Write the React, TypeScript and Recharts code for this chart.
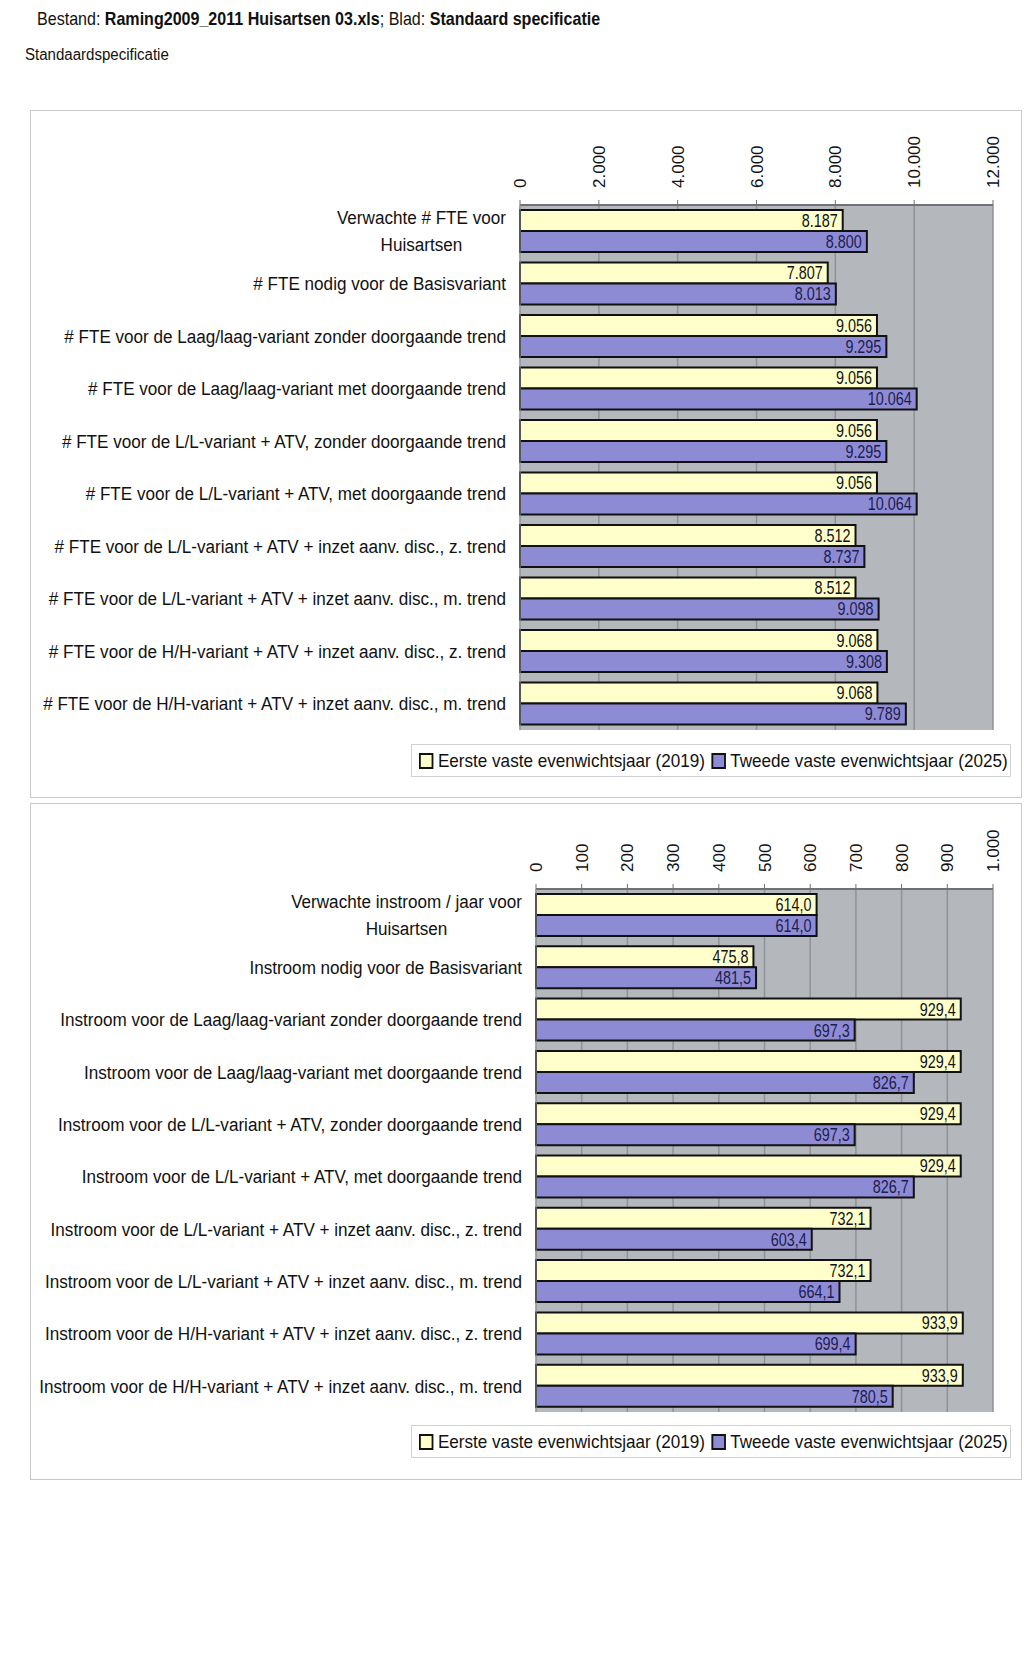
import React from 'react';
import {
  BarChart,
  Bar,
  XAxis,
  YAxis,
  CartesianGrid,
  LabelList
} from 'recharts';

// categories (newline = wrapped label)
const fteCategories = [
  'Verwachte # FTE voor\nHuisartsen',
  '# FTE nodig voor de Basisvariant',
  '# FTE voor de Laag/laag-variant zonder doorgaande trend',
  '# FTE voor de Laag/laag-variant met doorgaande trend',
  '# FTE voor de L/L-variant + ATV, zonder doorgaande trend',
  '# FTE voor de L/L-variant + ATV, met doorgaande trend',
  '# FTE voor de L/L-variant + ATV + inzet aanv. disc., z. trend',
  '# FTE voor de L/L-variant + ATV + inzet aanv. disc., m. trend',
  '# FTE voor de H/H-variant + ATV + inzet aanv. disc., z. trend',
  '# FTE voor de H/H-variant + ATV + inzet aanv. disc., m. trend',
];
const fte2019 = [8187, 7807, 9056, 9056, 9056, 9056, 8512, 8512, 9068, 9068];
const fte2025 = [8800, 8013, 9295, 10064, 9295, 10064, 8737, 9098, 9308, 9789];
const fteTicks = [0, 2000, 4000, 6000, 8000, 10000, 12000];

const instroomCategories = [
  'Verwachte instroom / jaar voor\nHuisartsen',
  'Instroom nodig voor de Basisvariant',
  'Instroom voor de Laag/laag-variant zonder doorgaande trend',
  'Instroom voor de Laag/laag-variant met doorgaande trend',
  'Instroom voor de L/L-variant + ATV, zonder doorgaande trend',
  'Instroom voor de L/L-variant + ATV, met doorgaande trend',
  'Instroom voor de L/L-variant + ATV + inzet aanv. disc., z. trend',
  'Instroom voor de L/L-variant + ATV + inzet aanv. disc., m. trend',
  'Instroom voor de H/H-variant + ATV + inzet aanv. disc., z. trend',
  'Instroom voor de H/H-variant + ATV + inzet aanv. disc., m. trend',
];
const instroom2019 = [614.0, 475.8, 929.4, 929.4, 929.4, 929.4, 732.1, 732.1, 933.9, 933.9];
const instroom2025 = [614.0, 481.5, 697.3, 826.7, 697.3, 826.7, 603.4, 664.1, 699.4, 780.5];
const instroomTicks = [0, 100, 200, 300, 400, 500, 600, 700, 800, 900, 1000];

const seriesNames = ['Eerste vaste evenwichtsjaar (2019)', 'Tweede vaste evenwichtsjaar (2025)'];

// no narrow font installed, so condense Liberation Sans with a horizontal scale
const FONT = '"Liberation Sans", Arial, sans-serif';
const CAT_SX = 0.9;
const VAL_SX = 0.8;
const YELLOW = '#FFFFCC';
const PURPLE = '#8E8BD5';
const PLOT_BG = '#B4B7BB';

// dutch number formats
const thousands = (v: number) => String(Math.round(v)).replace(/\B(?=(\d{3})+(?!\d))/g, '.');
const oneDecimal = (v: number) => v.toFixed(1).replace('.', ',');

let ctx: CanvasRenderingContext2D | null = null;
const measure = (text: string, font: string) => {
  if (!ctx) ctx = document.createElement('canvas').getContext('2d');
  if (!ctx) return text.length * 9;
  ctx.font = font;
  return ctx.measureText(text).width;
};

const CategoryTick = (props: any) => {
  const { x, y, payload } = props;
  const lines = String(payload.value).split('\n');
  const right = x - 6;
  if (lines.length === 1) {
    return (
      <g transform={`translate(${right},${y}) scale(${CAT_SX},1)`}>
        <text x={0} y={0} dy="0.35em" textAnchor="end" fontSize={19} fontFamily={FONT} fill="#111">
          {lines[0]}
        </text>
      </g>
    );
  }
  const w = Math.max(...lines.map(l => measure(l, `19px ${FONT}`))) * CAT_SX;
  const cx = right - w / 2;
  return (
    <g transform={`translate(${cx},${y}) scale(${CAT_SX},1)`}>
      <text textAnchor="middle" fontSize={19} fontFamily={FONT} fill="#111">
        {lines.map((l, i) => (
          <tspan key={i} x={0} y={(i - (lines.length - 1) / 2) * 27} dy="0.35em">{l}</tspan>
        ))}
      </text>
    </g>
  );
};

const ValueTick = (props: any) => {
  const { x, y, payload } = props;
  return (
    <text
      transform={`translate(${x + 6},${y - 12}) rotate(-90)`}
      textAnchor="start"
      fontSize={17}
      fontFamily={FONT}
      fill="#111"
    >
      {thousands(payload.value)}
    </text>
  );
};

const barLabel = (fmt: (v: number) => string, fill: string) => (props: any) => {
  const { x, y, width, height, value } = props;
  return (
    <g transform={`translate(${x + width - 5},${y + height / 2}) scale(${VAL_SX},1)`}>
      <text x={0} y={0} dy="0.36em" textAnchor="end" fontSize={18} fontFamily={FONT} fill={fill}>
        {fmt(Number(value))}
      </text>
    </g>
  );
};

const LegendBox = ({ left, top }: { left: number; top: number }) => (
  <div
    style={{
      position: 'absolute', left, top, width: 600, height: 33, boxSizing: 'border-box',
      border: '1px solid #cfd2d5', background: '#fff', overflow: 'hidden'
    }}
  >
    <div
      style={{
        position: 'absolute', left: 7, top: 0, height: 31, display: 'flex', alignItems: 'center',
        fontFamily: FONT, fontSize: 19, color: '#111', whiteSpace: 'nowrap',
        transform: 'scaleX(0.9)', transformOrigin: 'left center'
      }}
    >
      {[YELLOW, PURPLE].map((c, i) => (
        <span key={i} style={{ display: 'flex', alignItems: 'center', marginRight: 7 }}>
          <span style={{ width: 12, height: 12, background: c, border: '2px solid #111', marginRight: 5 }} />
          {seriesNames[i]}
        </span>
      ))}
    </div>
  </div>
);

interface PanelProps {
  top: number;
  height: number;
  categories: string[];
  a: number[];
  b: number[];
  ticks: number[];
  axisWidth: number;
  axisHeight: number;
  marginTop: number;
  fmt: (v: number) => string;
  legendTop: number;
}

const Panel = ({ top, height, categories, a, b, ticks, axisWidth, axisHeight, marginTop, fmt, legendTop }: PanelProps) => {
  const data = categories.map((name, i) => ({ name, a: a[i], b: b[i] }));
  return (
    <>
      <div
        style={{
          position: 'absolute', left: 30, top, width: 992, height, boxSizing: 'border-box',
          border: '1px solid #c6cacd', background: '#fff'
        }}
      />
      <div style={{ position: 'absolute', left: 30, top }}>
        <BarChart
          width={991}
          height={height}
          data={data}
          layout="vertical"
          barGap={0}
          margin={{ top: marginTop, right: 28, bottom: 68, left: 0 }}
        >
          <CartesianGrid horizontal={false} stroke="#8f9397" fill={PLOT_BG} strokeWidth={1.5} />
          <XAxis
            type="number"
            orientation="top"
            domain={[ticks[0], ticks[ticks.length - 1]]}
            ticks={ticks}
            height={axisHeight}
            tick={<ValueTick />}
            tickSize={5}
            tickMargin={0}
            stroke="#6f7174"
            axisLine={{ stroke: '#6f7174', strokeWidth: 2 }}
            interval={0}
          />
          <YAxis
            type="category"
            dataKey="name"
            width={axisWidth}
            tick={<CategoryTick />}
            tickLine={false}
            axisLine={{ stroke: '#9a9da1' }}
            interval={0}
          />
          <Bar dataKey="a" fill={YELLOW} stroke="#111" strokeWidth={2} barSize={21} isAnimationActive={false}>
            <LabelList dataKey="a" content={barLabel(fmt, '#111')} />
          </Bar>
          <Bar dataKey="b" fill={PURPLE} stroke="#111" strokeWidth={2} barSize={21} isAnimationActive={false}>
            <LabelList dataKey="b" content={barLabel(fmt, '#1d1d4d')} />
          </Bar>
        </BarChart>
      </div>
      <LegendBox left={411} top={legendTop} />
    </>
  );
};

export default function App() {
  return (
    <div style={{ position: 'absolute', left: 0, top: 0, width: 1024, height: 1673, background: '#fff', overflow: 'hidden' }}>
      <div
        style={{
          position: 'absolute', left: 37, top: 8, fontFamily: FONT, fontSize: 19, color: '#111', whiteSpace: 'nowrap',
          transform: 'scaleX(0.845)', transformOrigin: 'left center'
        }}
      >
        Bestand: <b>Raming2009_2011 Huisartsen 03.xls</b>; Blad: <b>Standaard specificatie</b>
      </div>
      <div
        style={{
          position: 'absolute', left: 25, top: 46, fontFamily: FONT, fontSize: 16, color: '#111', whiteSpace: 'nowrap',
          transform: 'scaleX(0.94)', transformOrigin: 'left center'
        }}
      >
        Standaardspecificatie
      </div>
      <Panel
        top={110}
        height={688}
        categories={fteCategories}
        a={fte2019}
        b={fte2025}
        ticks={fteTicks}
        axisWidth={490}
        axisHeight={80}
        marginTop={15}
        fmt={thousands}
        legendTop={744}
      />
      <Panel
        top={803}
        height={677}
        categories={instroomCategories}
        a={instroom2019}
        b={instroom2025}
        ticks={instroomTicks}
        axisWidth={506}
        axisHeight={70}
        marginTop={16}
        fmt={oneDecimal}
        legendTop={1425}
      />
    </div>
  );
}
